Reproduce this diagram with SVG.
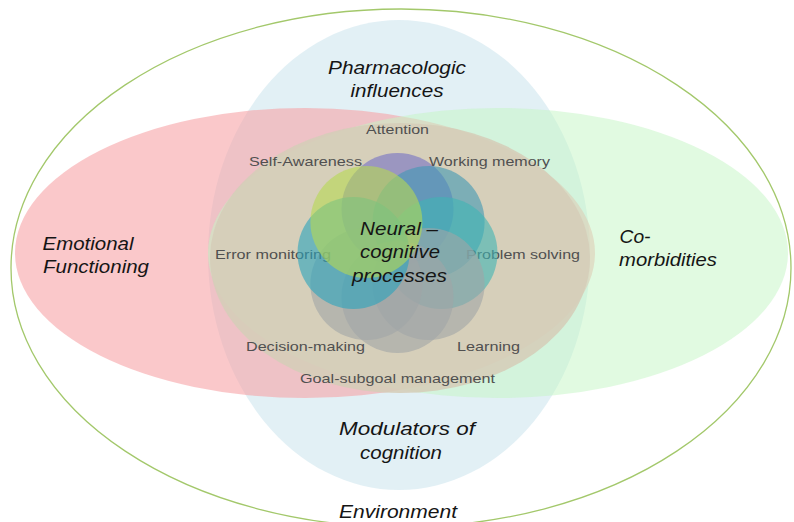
<svg xmlns="http://www.w3.org/2000/svg" width="794" height="522" viewBox="0 0 794 522">
  <style>
    .big { font-family: "Liberation Sans", Arial, sans-serif; font-style: italic; font-size: 18px; fill: #151515; text-anchor: middle; }
    .small { font-family: "Liberation Sans", Arial, sans-serif; font-size: 13px; fill: #505050; text-anchor: middle; }
    .petal { fill-opacity: 0.6; stroke: none; }
  </style>

  <!-- Outer context: environment -->
  <g id="environment">
    <ellipse cx="401" cy="268" rx="390" ry="259" fill="#ffffff" stroke="#a3c86b" stroke-width="1.3"/>
    <text class="big" x="398" y="518" textLength="118" lengthAdjust="spacingAndGlyphs">Environment</text>
  </g>

  <!-- Modulators of cognition (vertical ellipse) -->
  <g id="modulators">
    <ellipse cx="399" cy="255" rx="191" ry="235" fill="#cfe6ee" fill-opacity="0.6"/>
    <text class="big" x="397" y="74" textLength="138" lengthAdjust="spacingAndGlyphs">Pharmacologic</text>
    <text class="big" x="397" y="97" textLength="93" lengthAdjust="spacingAndGlyphs">influences</text>
    <text class="big" x="407" y="435" textLength="136" lengthAdjust="spacingAndGlyphs">Modulators of</text>
    <text class="big" x="401" y="459" textLength="82" lengthAdjust="spacingAndGlyphs">cognition</text>
  </g>

  <!-- Emotional functioning -->
  <g id="emotional">
    <ellipse cx="305" cy="253" rx="290" ry="145" fill="#f7a1a4" fill-opacity="0.58"/>
    <text class="big" x="88" y="250" textLength="91" lengthAdjust="spacingAndGlyphs">Emotional</text>
    <text class="big" x="96" y="273" textLength="106" lengthAdjust="spacingAndGlyphs">Functioning</text>
  </g>

  <!-- Co-morbidities -->
  <g id="comorbidities">
    <ellipse cx="498" cy="253" rx="290" ry="145" fill="#c4f5c4" fill-opacity="0.5"/>
    <text class="big" x="635" y="243" textLength="31" lengthAdjust="spacingAndGlyphs">Co-</text>
    <text class="big" x="668" y="266" textLength="98" lengthAdjust="spacingAndGlyphs">morbidities</text>
  </g>

  <!-- Core field around the cognitive processes -->
  <g id="core">
    <ellipse cx="400" cy="258" rx="190" ry="135" fill="#d5cdb8" fill-opacity="0.88"/>
    <text class="small" x="397.5" y="383" textLength="195" lengthAdjust="spacingAndGlyphs">Goal-subgoal management</text>
  </g>

  <!-- Petals: label first, then circle -->
  <g id="attention">
    <text class="small" x="397.5" y="134" textLength="63" lengthAdjust="spacingAndGlyphs">Attention</text>
    <circle class="petal" cx="397.5" cy="209" r="56" fill="#7370c5"/>
  </g>
  <g id="working-memory">
    <text class="small" x="489.5" y="166" textLength="121" lengthAdjust="spacingAndGlyphs">Working memory</text>
    <circle class="petal" cx="428.6" cy="221.9" r="56" fill="#3f98b4"/>
  </g>
  <g id="problem-solving">
    <text class="small" x="523" y="259" textLength="114" lengthAdjust="spacingAndGlyphs">Problem solving</text>
    <circle class="petal" cx="441.5" cy="253" r="56" fill="#3fb4b4"/>
  </g>
  <g id="learning">
    <text class="small" x="488.5" y="351" textLength="63" lengthAdjust="spacingAndGlyphs">Learning</text>
    <circle class="petal" cx="428.6" cy="284.1" r="56" fill="#a0a5a6"/>
  </g>
  <g id="goal-subgoal">
    <circle class="petal" cx="397.5" cy="297" r="56" fill="#a0a5a6"/>
  </g>
  <g id="decision-making">
    <text class="small" x="305.5" y="351" textLength="119" lengthAdjust="spacingAndGlyphs">Decision-making</text>
    <circle class="petal" cx="366.4" cy="284.1" r="56" fill="#a0a5a6"/>
  </g>
  <g id="error-monitoring">
    <text class="small" x="273" y="259" textLength="116" lengthAdjust="spacingAndGlyphs">Error monitoring</text>
    <circle class="petal" cx="353.5" cy="253" r="56" fill="#2aa4bc"/>
  </g>
  <g id="self-awareness">
    <text class="small" x="305.5" y="166" textLength="113" lengthAdjust="spacingAndGlyphs">Self-Awareness</text>
    <circle class="petal" cx="366.4" cy="221.9" r="56" fill="#b5d951"/>
  </g>

  <!-- Centre label -->
  <g id="neural-cognitive">
    <text class="big" x="399" y="235" textLength="78" lengthAdjust="spacingAndGlyphs">Neural –</text>
    <text class="big" x="400" y="258" textLength="80" lengthAdjust="spacingAndGlyphs">cognitive</text>
    <text class="big" x="399.5" y="282" textLength="95" lengthAdjust="spacingAndGlyphs">processes</text>
  </g>
</svg>
